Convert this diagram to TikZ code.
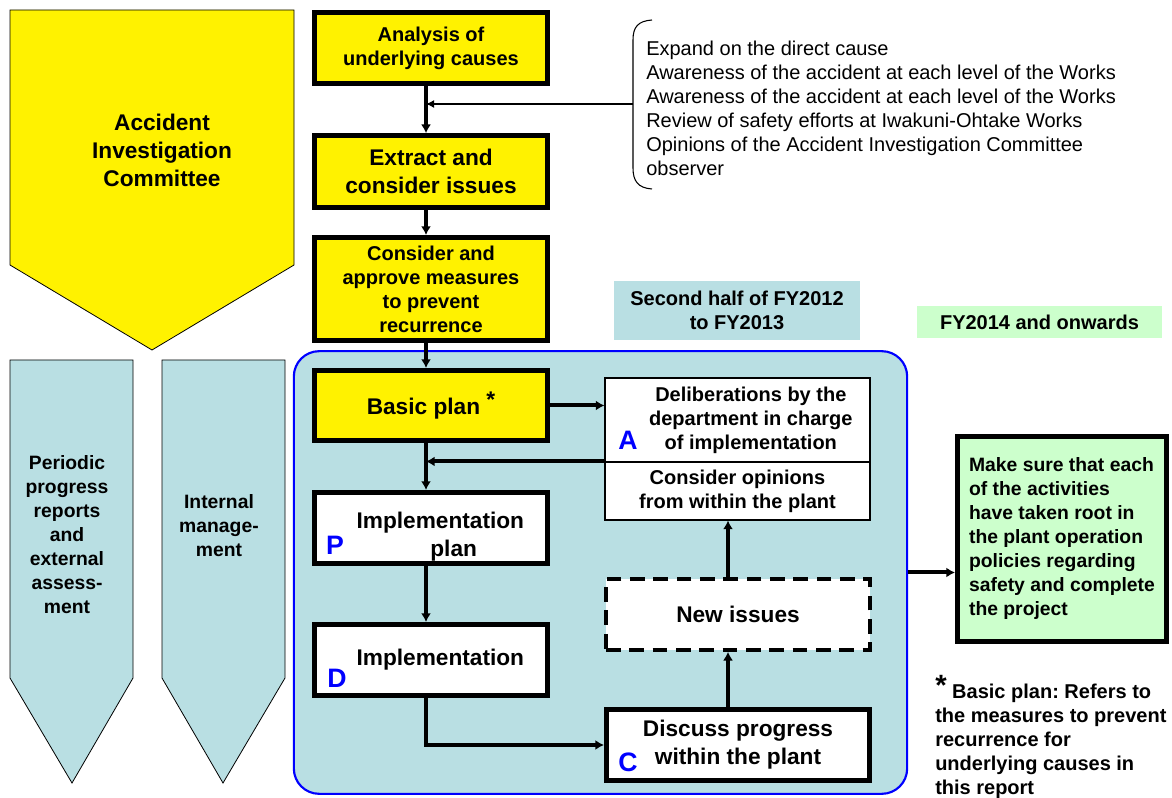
\documentclass[tikz,border=0pt]{standalone}
\usepackage{fontspec}
\setmainfont{Liberation Sans}
\usetikzlibrary{shapes,arrows,arrows.meta,positioning}

\definecolor{PaleTeal}{RGB}{185,223,227}
\definecolor{PaleGreen}{RGB}{204,255,204}
\definecolor{PureBlue}{RGB}{0,0,255}

\tikzset{
	Arr/.style={-{Latex[length=6.5pt, width=7.5pt]}, line width=3pt},
	ThinArr/.style={-{Latex[length=6pt, width=6pt]}, line width=1.1pt}
}

\begin{document}
\frenchspacing
\begin{tikzpicture}[x=0.75pt, y=-0.75pt]
	\tikzstyle{Big}		= [font=\fontsize{17pt}{21pt}\selectfont\bfseries, align=center]
	\tikzstyle{Small}	= [font=\fontsize{15pt}{18pt}\selectfont\bfseries, align=center]
	\tikzstyle{Side}	= [font=\fontsize{14.5pt}{18pt}\selectfont\bfseries, align=center]
	\tikzstyle{Step}	= [rectangle, draw, line width=3.5pt, minimum width=175pt, inner sep=2pt]
	\tikzstyle{YStep}	= [Step, fill=yellow]
	\tikzstyle{WStep}	= [Step, fill=white]
	\tikzstyle{Cell}	= [rectangle, draw, line width=0.8pt, fill=white, minimum width=198.75pt, inner sep=2pt]
	\tikzstyle{DashBox}	= [rectangle, draw, line width=3pt, dash pattern=on 11pt off 6.5pt, fill=white, minimum width=198pt, minimum height=53pt]
	\tikzstyle{Letter}	= [font=\fontsize{20pt}{20pt}\selectfont\bfseries, text=PureBlue, inner sep=0pt]

	\useasboundingbox (0,0) rectangle (1172,798);

	% pentagon arrows on the left
	\filldraw [fill=yellow, draw=black, line width=0.6pt] (10,10) -- (294,10) -- (294,265) -- (152,350) -- (10,265) -- cycle;
	\node (aic) at (162,150) [Big] {Accident\\Investigation\\Committee};
	\foreach \l/\r/\m in {10/133/72, 162/285/223}
		\filldraw [fill=PaleTeal, draw=black, line width=0.6pt] (\l,360) -- (\r,360) -- (\r,678) -- (\m,783) -- (\l,678) -- cycle;
	\node (rep) at (67,535) [Side] {Periodic\\progress\\reports\\and\\external\\assess-\\ment};
	\node (mgmt) at (219,526) [Side] {Internal\\manage-\\ment};

	% PDCA frame
	\node (cyc) at (600.5,572.5) [rectangle, draw=PureBlue, line width=1.6pt, fill=PaleTeal, rounded corners=19pt, minimum width=460pt, minimum height=332pt] {};

	% period labels
	\node (lab1) at (737,310.5) [Small, fill=PaleTeal, minimum width=184.5pt, minimum height=44.25pt] {Second half of FY2012\\to FY2013};
	\node (lab2) at (1039.5,322) [Small, fill=PaleGreen, minimum width=183.75pt, minimum height=24pt] {FY2014 and onwards};

	% main steps
	\node (ana) at (431,48) [YStep, Small, minimum height=53.5pt] {Analysis of\\underlying causes};
	\node (ext) at (431,171.5) [YStep, Big, minimum height=54pt] {Extract and\\consider issues};
	\node (con) at (431,289) [YStep, Small, minimum height=77.5pt] {Consider and\\approve measures\\to prevent\\recurrence};
	\node (basic) at (431,405.5) [YStep, Big, minimum height=52.75pt] {Basic plan \raisebox{5pt}{*}};
	\node (iplan) at (431,528) [WStep, Big, minimum height=53.5pt] {\rule{0pt}{25pt}\hspace*{14pt}Implementation\\\hspace*{34pt}plan};
	\node (impl) at (431,660) [WStep, Big, minimum height=53.5pt] {\hspace*{14pt}Implementation};
	\node (delib) at (737.5,420) [Cell, Small, minimum height=63pt] {\hspace*{20pt}Deliberations by the\\\hspace*{20pt}department in charge\\\hspace*{20pt}of implementation};
	\node (opin) at (737.5,491) [Cell, Small, minimum height=43.5pt] {Consider opinions\\from within the plant};
	\node (newi) at (738,614.5) [DashBox, Big] {New issues};
	\node (disc) at (738,745) [WStep, Big, minimum width=197.5pt, minimum height=53.5pt] {Discuss progress\\within the plant};
	\node (root) at (1062,539) [rectangle, draw, line width=3.5pt, fill=PaleGreen, minimum width=157pt, minimum height=154pt, Side, align=left] {Make sure that each\\of the activities\\have taken root in\\the plant operation\\policies regarding\\safety and complete\\the project};

	% PDCA letters
	\foreach \n/\x/\y/\t in {lP/335/545/P, lD/337/678/D, lA/628/440/A, lC/628/762/C}
		\node (\n) at (\x,\y) [Letter] {\t};

	% brace with observations
	\draw [line width=0.8pt] (652,20) .. controls (638,21) and (633,27) .. (633,40) -- (633,168) .. controls (633,181) and (638,188) .. (652,189);
	\coordinate (br) at (633,104);
	\coordinate (sp) at (426,0);
	\node (obs) at (646,108) [anchor=west, align=left, inner sep=0pt, font=\fontsize{15pt}{18pt}\selectfont] {Expand on the direct cause\\Awareness of the accident at each level of the Works\\Awareness of the accident at each level of the Works\\Review of safety efforts at Iwakuni-Ohtake Works\\Opinions of the Accident Investigation Committee\\observer};

	% footnote
	\node (note) at (935,737) [Small, anchor=west, align=left, inner sep=0pt] {\raisebox{2pt}{\fontsize{22pt}{22pt}\selectfont *} Basic plan: Refers to\\the measures to prevent\\recurrence for\\underlying causes in\\this report};

	% connectors
	\draw [Arr] (ana.south -| sp) -- (ext.north -| sp);
	\draw [Arr] (ext.south -| sp) -- (con.north -| sp);
	\draw [Arr] (con.south -| sp) -- (basic.north -| sp);
	\draw [Arr] (basic.south -| sp) -- (iplan.north -| sp);
	\draw [Arr] (iplan.south -| sp) -- (impl.north -| sp);
	\draw [Arr] (impl.south -| sp) |- (disc.west);
	\draw [Arr] (basic.east) -- (basic.east -| delib.west);
	\draw [Arr] (opin.north west) -- (opin.north west -| sp);
	\draw [Arr] ([xshift=-7.5pt]disc.north) -- ([xshift=-7.5pt]newi.south);
	\draw [Arr] ([xshift=-7.5pt]newi.north) -- ([xshift=-7.5pt]newi.north |- opin.south);
	\draw [Arr] (cyc.east) -- (cyc.east -| root.west);
	\draw [ThinArr] (br) -- (br -| sp);
\end{tikzpicture}
\end{document}
